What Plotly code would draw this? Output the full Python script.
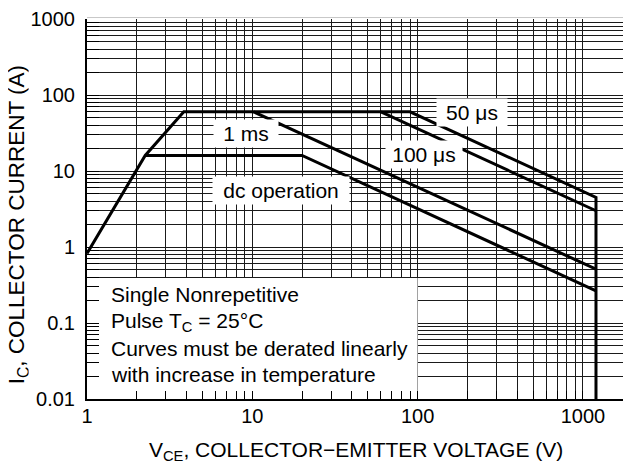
import numpy as np
import plotly.graph_objects as go

# ---- data ----
pulse50_v = [1, 2.25, 3.85, 90, 1200, 1200]
pulse50_i = [0.82, 16, 60, 60, 4.5, 0.01]
pulse100_v = [60, 1200]
pulse100_i = [60, 3.0]
ms1_v = [10.2, 1200]
ms1_i = [60, 0.51]
dc_v = [2.25, 20, 1200]
dc_i = [16, 16, 0.265]

# white note panel (lower left), in data units
note_box_v = [1, 100, 100, 1, 1]
note_box_i = [0.01, 0.01, 0.39, 0.39, 0.01]

x_decades = [1, 10, 100, 1000]
y_decades = [0.01, 0.1, 1, 10, 100, 1000]
x_labels = ["1", "10", "100", "1000"]
y_labels = ["0.01", "0.1", "1", "10", "100", "1000"]

labels = [
    ("1 ms", 9.2, 30.9, 62),
    ("dc operation", 14.9, 5.6, 134),
    ("50 \u03bcs", 213, 59.7, 68),
    ("100 \u03bcs", 110, 16.6, 74),
]
note_lines = [
    "Single Nonrepetitive",
    "Pulse T<sub>C</sub> = 25\u00b0C",
    "Curves must be derated linearly",
    "with increase in temperature",
]

FONT = "Liberation Sans, Arial, Helvetica, sans-serif"
XR = [0, 3.291]
YR = [-2, 3]

# page body has an 8px margin: figure is offset by (8, 8)
OFF = 8
L, T, B = 87 - OFF, 15 - OFF, 71
W, H = 631 - OFF, 470 - OFF
PW, PH = W - L, H - T - B


def minor_vals(decades, lo, hi):
    out = []
    for d in decades:
        for m in range(2, 10):
            v = d * m
            if lo <= np.log10(v) <= hi + 1e-9:
                out.append(v)
    return out


fig = go.Figure()
fig.add_trace(go.Scatter(x=note_box_v, y=note_box_i, mode="lines", fill="toself",
                         fillcolor="white", line=dict(width=0, color="white"),
                         showlegend=False, hoverinfo="skip"))
line = dict(color="black", width=3)
for xs, ys in [(pulse50_v, pulse50_i), (pulse100_v, pulse100_i), (ms1_v, ms1_i), (dc_v, dc_i)]:
    fig.add_trace(go.Scatter(x=xs, y=ys, mode="lines", line=line, showlegend=False, hoverinfo="skip"))

# light top frame line
fig.add_shape(type="line", xref="paper", yref="paper", x0=0, x1=1,
              y0=1 + 1.5 / PH, y1=1 + 1.5 / PH, line=dict(color="#c8c8c8", width=1))

for txt, xv_, yv_, w in labels:
    fig.add_annotation(x=np.log10(xv_), y=np.log10(yv_), xref="x", yref="y", text=txt,
                       showarrow=False, bgcolor="white", width=w, height=25,
                       font=dict(family=FONT, size=21, color="black"))


def px_to_paper(px, py):
    return (px - OFF - L) / PW, (H - B - (py - OFF)) / PH


note_y = [293.5, 321.5, 347.5, 374]
for t, py in zip(note_lines, note_y):
    xx, yy = px_to_paper(109, py)
    fig.add_annotation(xref="paper", yref="paper", x=xx, y=yy,
                       xanchor="left", yanchor="middle", text=t, showarrow=False,
                       font=dict(family=FONT, size=21, color="black"))

# axis titles
xx, yy = px_to_paper(356, 452)
fig.add_annotation(xref="paper", yref="paper", x=xx, y=yy,
                   xanchor="center", yanchor="middle", showarrow=False,
                   text="V<sub>CE</sub>, COLLECTOR\u2212EMITTER VOLTAGE (V)",
                   font=dict(family=FONT, size=21, color="black"))
xx, yy = px_to_paper(18.5, 223)
fig.add_annotation(xref="paper", yref="paper", x=xx, y=yy,
                   xanchor="center", yanchor="middle", showarrow=False, textangle=-90,
                   height=21,
                   text="I<sub>C</sub>, COLLECTOR CURRENT (A)",
                   font=dict(family=FONT, size=22.5, color="black"))

grid = "#1a1a1a"
axis_common = dict(type="log", showgrid=True, gridcolor=grid, gridwidth=1,
                   showline=True, linecolor="black", linewidth=2, zeroline=False,
                   ticks="inside", tickcolor="black", tickwidth=1, ticklabeloverflow="allow",
                   tickfont=dict(family=FONT, size=20, color="black"))
fig.update_xaxes(range=XR, tickmode="array", tickvals=x_decades, ticktext=x_labels, ticklen=8,
                 ticklabelstandoff=-2,
                 minor=dict(tickmode="array", tickvals=minor_vals(x_decades, *XR), ticks="inside",
                            ticklen=8, tickcolor="black", showgrid=True, gridcolor=grid, gridwidth=1),
                 **axis_common)
fig.update_yaxes(range=YR, tickmode="array", tickvals=y_decades, ticktext=y_labels, ticklen=12,
                 ticklabelstandoff=6,
                 minor=dict(tickmode="array", tickvals=minor_vals(y_decades, *YR), ticks="inside",
                            ticklen=12, tickcolor="black", showgrid=True, gridcolor=grid, gridwidth=1),
                 **axis_common)

fig.update_layout(width=W, height=H, margin=dict(l=L, r=0, t=T, b=B),
                  plot_bgcolor="white", paper_bgcolor="white",
                  font=dict(family=FONT, color="black"))
fig.write_html("out.html")
